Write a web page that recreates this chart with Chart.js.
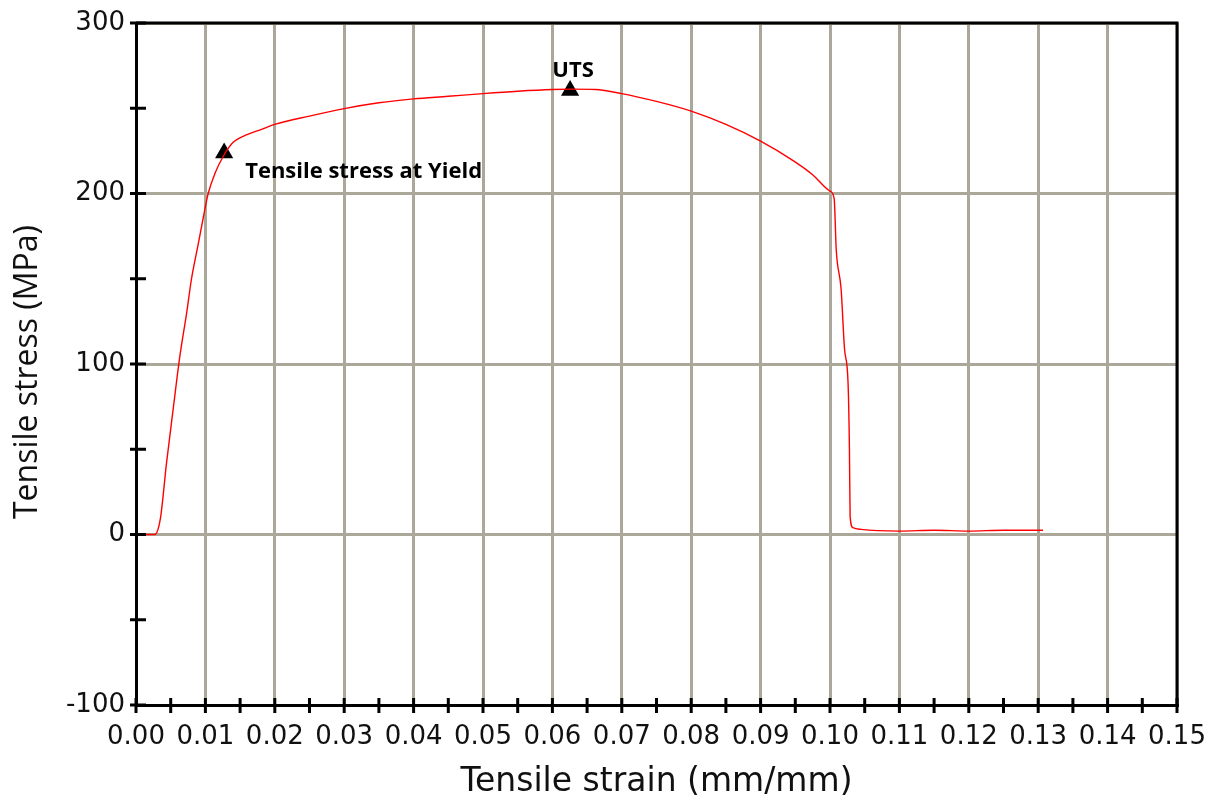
<!DOCTYPE html>
<html>
<head>
<meta charset="utf-8">
<script src="https://cdn.jsdelivr.net/npm/chart.js@4.4.0/dist/chart.umd.min.js"></script>
<style>
  html, body { margin: 0; padding: 0; background: #fff; }
</style>
</head>
<body>
<canvas id="myChart" width="1213" height="803"></canvas>
<script>
// tensile test curve
const strain = [0, 0.0027, 0.0035, 0.0044, 0.0054, 0.0063, 0.0073, 0.0080, 0.0090, 0.0097,
  0.0104, 0.0114, 0.0126, 0.0140, 0.0160, 0.0180, 0.0200, 0.0250, 0.0300,
  0.0350, 0.0400, 0.0450, 0.0500, 0.0550, 0.0600, 0.0630, 0.0662, 0.0700, 0.0750,
  0.0800, 0.0850, 0.0900, 0.0948, 0.0975, 0.1000, 0.1006, 0.1009, 0.1016, 0.1021,
  0.1026, 0.1028, 0.1029, 0.1033, 0.1045, 0.1100, 0.1150, 0.1200, 0.1250, 0.1307];
const stress = [0, 0, 9, 42, 75, 104, 130, 150, 171, 186,
  200, 212, 222, 230, 234.5, 237.5, 240.5, 245.4, 249.8,
  253.2, 255.5, 257, 258.6, 260, 261, 261.2, 261, 258.6, 254,
  248.3, 240.5, 230.7, 219, 211, 201.4, 197, 167, 144, 108.5,
  89, 50, 10.5, 4, 3, 2, 2.5, 2, 2.5, 2.5];

const markerStrain = [0.0127, 0.06255];
const markerStress = [223.8, 260.4];
const markerLabels = ['Tensile stress at Yield', 'UTS'];

const strainTicks = [0, 0.01, 0.02, 0.03, 0.04, 0.05, 0.06, 0.07, 0.08, 0.09, 0.10, 0.11, 0.12, 0.13, 0.14, 0.15];
const stressTicks = [-100, 0, 100, 200, 300];
const yTitle = 'Tensile stress (MPa)';

const curve = strain.map((s, i) => ({ x: s, y: stress[i] }));
const markers = markerStrain.map((s, i) => ({ x: s, y: markerStress[i] }));

const gridColor = '#aca899';
const textColor = '#111';

// frame on top/right, tick marks crossing the axes, point labels, y title
const axisMarks = {
  id: 'axisMarks',
  afterDatasetsDraw(chart) {
    const { ctx, chartArea: a, scales: { x, y } } = chart;
    ctx.save();
    ctx.strokeStyle = '#000';
    ctx.lineWidth = 3;
    ctx.beginPath();
    ctx.moveTo(a.left, a.top);
    ctx.lineTo(a.right, a.top);
    ctx.lineTo(a.right, a.bottom);
    ctx.stroke();

    ctx.beginPath();
    for (let i = 0; i < strainTicks.length; i++) {
      const vals = [strainTicks[i]];
      if (i < strainTicks.length - 1) vals.push((strainTicks[i] + strainTicks[i + 1]) / 2);
      vals.forEach(v => {
        const px = x.getPixelForValue(v);
        ctx.moveTo(px, a.bottom - 7);
        ctx.lineTo(px, a.bottom + 8);
      });
    }
    for (let i = 0; i < stressTicks.length; i++) {
      const vals = [stressTicks[i]];
      if (i < stressTicks.length - 1) vals.push((stressTicks[i] + stressTicks[i + 1]) / 2);
      vals.forEach(v => {
        const py = y.getPixelForValue(v);
        ctx.moveTo(a.left - 6, py);
        ctx.lineTo(a.left + 10, py);
      });
    }
    ctx.stroke();

    // point labels
    ctx.fillStyle = '#000';
    ctx.font = 'bold 22px "Open Sans"';
    const p0x = x.getPixelForValue(markerStrain[0]);
    const p0y = y.getPixelForValue(markerStress[0]);
    ctx.textAlign = 'left';
    ctx.textBaseline = 'alphabetic';
    ctx.fillText(markerLabels[0], p0x + 21, p0y + 25);
    const p1x = x.getPixelForValue(markerStrain[1]);
    const p1y = y.getPixelForValue(markerStress[1]);
    ctx.textAlign = 'center';
    ctx.fillText(markerLabels[1], p1x + 3, p1y - 14);

    // y axis title
    ctx.fillStyle = textColor;
    ctx.font = '32px "Open Sans"';
    ctx.translate(28, 372);
    ctx.rotate(-Math.PI / 2);
    ctx.textAlign = 'center';
    ctx.textBaseline = 'middle';
    ctx.fillText(yTitle, 0, 0);
    ctx.restore();
  }
};

const myChart = new Chart(document.getElementById('myChart').getContext('2d'), {
  type: 'scatter',
  data: {
    datasets: [
      {
        data: curve,
        showLine: true,
        borderColor: '#ff0000',
        borderWidth: 1.4,
        pointRadius: 0,
        cubicInterpolationMode: 'monotone',
      },
      {
        data: markers,
        pointStyle: 'triangle',
        pointRadius: 10.5,
        backgroundColor: '#000',
        borderColor: '#000',
        borderWidth: 0,
      },
    ],
  },
  options: {
    responsive: false,
    animation: false,
    layout: { padding: { top: 23, right: 36, left: 0, bottom: 0 } },
    plugins: { legend: { display: false }, tooltip: { enabled: false } },
    scales: {
      x: {
        type: 'linear',
        min: 0,
        max: 0.15,
        afterBuildTicks: s => { s.ticks = strainTicks.map(v => ({ value: v })); },
        afterFit: s => { s.height = 98; s.paddingLeft = 0; s.paddingRight = 0; },
        ticks: {
          padding: 17,
          color: textColor,
          maxRotation: 0,
          autoSkip: false,
          font: { family: 'DejaVu Sans', size: 26 },
          callback: v => v.toFixed(2),
        },
        grid: { color: gridColor, lineWidth: 3, drawTicks: false },
        border: { color: '#000', width: 3 },
        title: {
          display: true,
          text: 'Tensile strain (mm/mm)',
          color: textColor,
          font: { family: 'DejaVu Sans', size: 33 },
          padding: { top: 0, bottom: 1 },
        },
      },
      y: {
        type: 'linear',
        min: -100,
        max: 300,
        afterBuildTicks: s => { s.ticks = stressTicks.map(v => ({ value: v })); },
        afterFit: s => { s.width = 136; s.paddingTop = 0; s.paddingBottom = 0; },
        ticks: {
          padding: 11,
          color: textColor,
          font: { family: 'DejaVu Sans', size: 26 },
        },
        grid: { color: gridColor, lineWidth: 3, drawTicks: false },
        border: { color: '#000', width: 3 },
        title: { display: false },
      },
    },
  },
  plugins: [axisMarks],
});
</script>
</body>
</html>
